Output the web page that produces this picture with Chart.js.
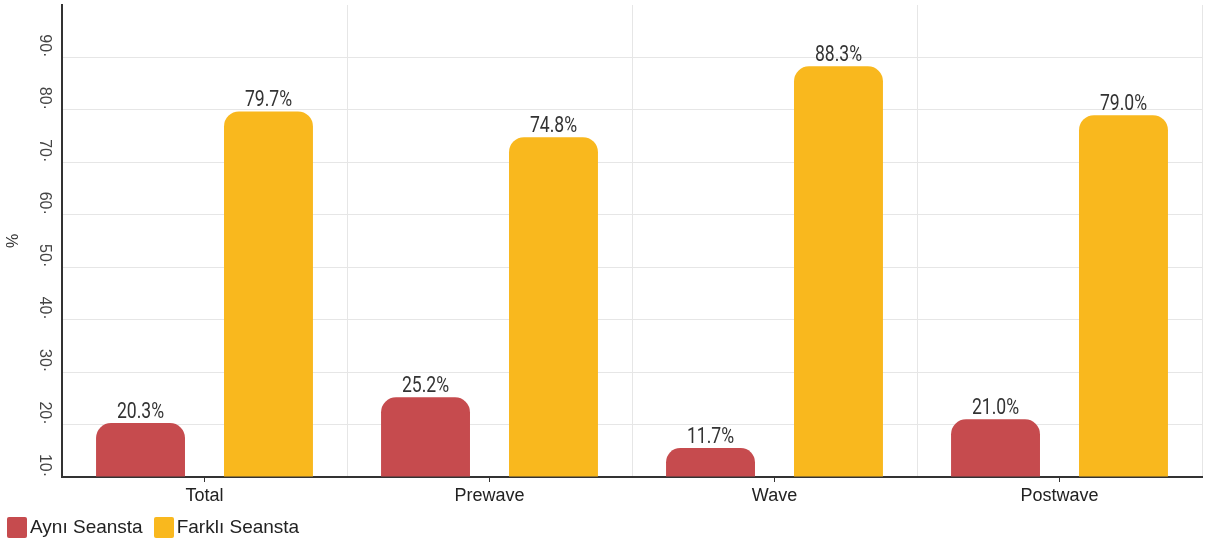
<!DOCTYPE html>
<html>
<head>
<meta charset="utf-8">
<script src="https://cdn.jsdelivr.net/npm/chart.js@4"></script>
<style>
  body { margin: 0; background: #fff; }
  #wrap { position: relative; width: 1205px; height: 545px; }
  #legend { position: absolute; left: 7px; top: 516px; display: flex; font: 19px "Liberation Sans", Arial, sans-serif; color: #222; }
  #legend .item { display: flex; align-items: center; margin-right: 11px; }
  #legend .box { width: 20px; height: 21px; border-radius: 2px; margin-right: 3px; }
</style>
</head>
<body>
<div id="wrap">
  <canvas id="chart" width="1205" height="545"></canvas>
  <div id="legend"></div>
</div>
<script>
const categories = ['Total', 'Prewave', 'Wave', 'Postwave'];
const sameSession = [20.3, 25.2, 11.7, 21.0];
const otherSession = [79.7, 74.8, 88.3, 79.0];
const seriesNames = ['Aynı Seansta', 'Farklı Seansta'];
const seriesColors = ['#C64B4E', '#F9B81E'];
const yMin = 10;
const yMax = 100;

// value labels above each bar, narrow font
const barLabels = {
    id: 'barLabels',
    afterDatasetsDraw(chart) {
        const ctx = chart.ctx;
        chart.data.datasets.forEach((ds, i) => {
            chart.getDatasetMeta(i).data.forEach((bar, j) => {
                ctx.save();
                ctx.translate(bar.x, bar.y - 5);
                ctx.scale(0.8, 1);
                ctx.font = '22px Roboto';
                ctx.fillStyle = '#333';
                ctx.textAlign = 'center';
                ctx.textBaseline = 'alphabetic';
                ctx.fillText(ds.data[j].toFixed(1) + '%', 0, 0);
                ctx.restore();
            });
        });
    }
};

const barStyle = {
    categoryPercentage: 0.898,
    barPercentage: 0.695,
    borderRadius: 15,
    borderSkipped: 'start',
    base: yMin,
    minBarLength: 29,
};

const ctx = document.getElementById('chart').getContext('2d');
const chart = new Chart(ctx, {
    type: 'bar',
    data: {
        labels: categories,
        datasets: [
            { label: seriesNames[0], data: sameSession, backgroundColor: seriesColors[0], ...barStyle },
            { label: seriesNames[1], data: otherSession, backgroundColor: seriesColors[1], ...barStyle },
        ],
    },
    options: {
        responsive: false,
        animation: false,
        layout: { padding: { top: 5, right: 3, left: 0, bottom: 0 } },
        plugins: {
            legend: { display: false },
            tooltip: { enabled: false },
        },
        scales: {
            x: {
                grid: { offset: false, drawOnChartArea: false, drawTicks: true, tickLength: 5, color: '#333' },
                border: { color: '#333', width: 2 },
                ticks: { color: '#222', font: { family: 'Liberation Sans', size: 18 }, padding: 3 },
                afterFit(s) { s.height = 68; },
            },
            xGrid: {
                type: 'category',
                labels: categories,
                position: 'top',
                offset: true,
                grid: {
                    offset: true,
                    drawTicks: false,
                    color: (c) => (c.index === 0 || c.index === categories.length) ? 'rgba(0,0,0,0)' : '#e6e6e6',
                },
                border: { display: false },
                ticks: { display: false },
                afterFit(s) { s.height = 0; s.paddingLeft = 0; s.paddingRight = 0; },
            },
            y: {
                min: yMin,
                max: yMax,
                grid: {
                    drawTicks: false,
                    color: (c) => (c.tick && c.tick.value === yMax) ? 'rgba(0,0,0,0)' : '#e6e6e6',
                },
                border: { color: '#333', width: 2 },
                ticks: {
                    stepSize: 10,
                    minRotation: -90,
                    maxRotation: -90,
                    padding: 18,
                    color: '#444',
                    font: { family: 'Liberation Sans', size: 16 },
                    callback: (v) => v === yMax ? '' : v + '·',
                },
                title: { display: true, text: '%', color: '#333', font: { family: 'Liberation Sans', size: 16 } },
                afterFit(s) { s.width = 62; s.paddingTop = 0; s.paddingBottom = 0; },
            },
        },
    },
    plugins: [barLabels],
});

const legend = document.getElementById('legend');
chart.data.datasets.forEach((ds) => {
    const item = document.createElement('div');
    item.className = 'item';
    const box = document.createElement('span');
    box.className = 'box';
    box.style.background = ds.backgroundColor;
    const txt = document.createElement('span');
    txt.textContent = ds.label;
    item.appendChild(box);
    item.appendChild(txt);
    legend.appendChild(item);
});
</script>
</body>
</html>
